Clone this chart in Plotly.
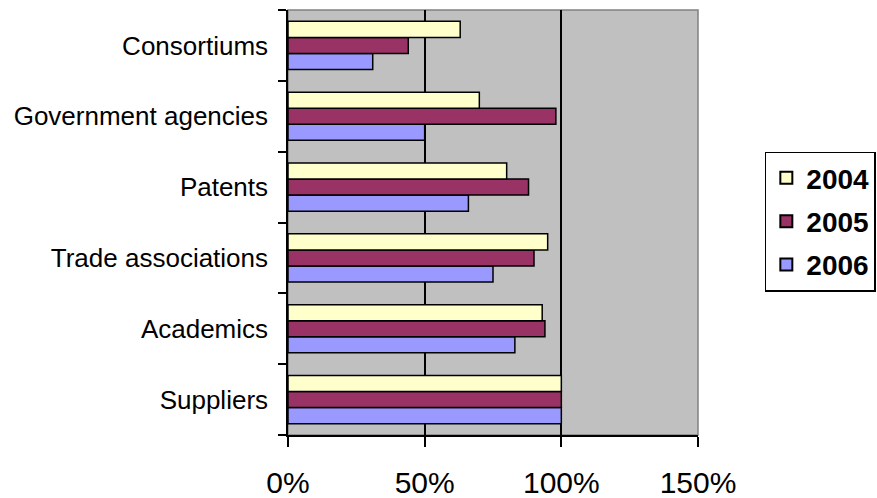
import plotly.graph_objects as go

categories = ["Suppliers", "Academics", "Trade associations", "Patents",
              "Government agencies", "Consortiums"]
series_names = ["2004", "2005", "2006"]
values_2004 = [100, 93, 95, 80, 70, 63]
values_2005 = [100, 94, 90, 88, 98, 44]
values_2006 = [100, 83, 75, 66, 50, 31]
colors = {"2004": "#FFFFCC", "2005": "#993366", "2006": "#9999FF"}
x_tickvals = [0, 50, 100, 150]
x_ticktext = ["0%", "50%", "100%", "150%"]

data = {"2004": values_2004, "2005": values_2005, "2006": values_2006}

fig = go.Figure()
# add in reverse so 2004 is drawn on top within each group
for name in ["2006", "2005", "2004"]:
    fig.add_trace(go.Bar(
        y=categories, x=data[name], name=name, orientation="h",
        marker=dict(color=colors[name], line=dict(color="black", width=1.5)),
        legendgroup=name, legendrank=series_names.index(name) + 1,
    ))

FONT = "Liberation Sans, Arial, sans-serif"

fig.update_layout(
    width=877, height=498,
    margin=dict(l=288, r=179, t=10, b=63, autoexpand=False),
    paper_bgcolor="white",
    plot_bgcolor="#C0C0C0",
    barmode="group",
    bargap=0.32,
    bargroupgap=0,
    font=dict(family=FONT, color="black"),
    legend=dict(
        x=1.163, xanchor="left", y=0.667, yanchor="top",
        traceorder="grouped", tracegroupgap=4,
        bordercolor="black", borderwidth=1.5, bgcolor="white",
        font=dict(family=FONT, size=28, color="black", weight="bold"),
        itemsizing="constant",
    ),
    xaxis=dict(
        range=[0, 150], tickvals=x_tickvals, ticktext=x_ticktext,
        showgrid=True, gridcolor="black", gridwidth=1.5,
        showline=True, linecolor="black", linewidth=1.5,
        ticks="outside", ticklen=10, tickwidth=1.5, tickcolor="black",
        tickfont=dict(family=FONT, size=30, color="black"),
        ticklabelstandoff=10, zeroline=False, fixedrange=True,
    ),
    yaxis=dict(
        type="category", categoryorder="array", categoryarray=categories,
        showgrid=False, showline=True, linecolor="black", linewidth=1.5,
        ticks="outside", ticklen=8, tickwidth=1.5, tickcolor="black",
        tickson="boundaries",
        tickfont=dict(family=FONT, size=26, color="black"),
        ticklabelstandoff=13, fixedrange=True,
    ),
    shapes=[dict(type="rect", xref="paper", yref="paper", x0=0, x1=1, y0=0, y1=1,
                 line=dict(color="#808080", width=1.5), layer="below")],
)

fig.write_html("out.html")
